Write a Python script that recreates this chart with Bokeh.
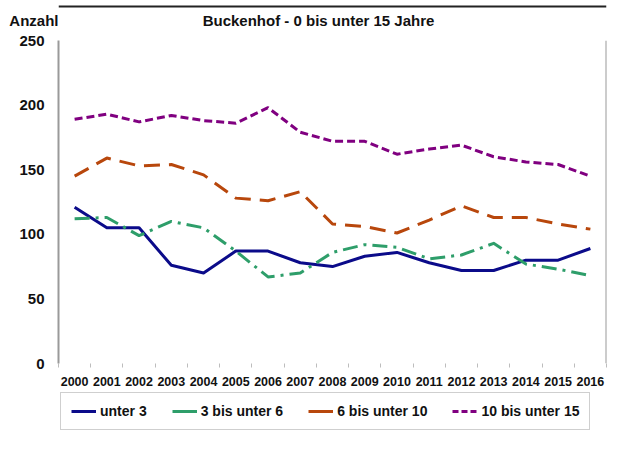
from bokeh.plotting import figure
from bokeh.layouts import column
from bokeh.models import Range1d, FixedTicker, Label, Legend, LegendItem, Span
from bokeh.embed import file_html
from bokeh.resources import INLINE

years = ["2000", "2001", "2002", "2003", "2004", "2005", "2006", "2007", "2008",
         "2009", "2010", "2011", "2012", "2013", "2014", "2015", "2016"]
unter_3 = [121, 105, 105, 76, 70, 87, 87, 78, 75, 83, 86, 78, 72, 72, 80, 80, 89]
bis_6 = [112, 113, 99, 110, 105, 87, 67, 70, 86, 92, 90, 81, 84, 93, 77, 73, 68]
bis_10 = [145, 159, 153, 154, 146, 128, 126, 133, 108, 106, 101, 111, 122, 113, 113, 108, 104]
bis_15 = [189, 193, 187, 192, 188, 186, 198, 179, 172, 172, 162, 166, 169, 160, 156, 154, 145]
y_ticks = [0, 50, 100, 150, 200, 250]
series_names = ["unter 3", "3 bis unter 6", "6 bis unter 10", "10 bis unter 15"]
title_text = "Buckenhof - 0 bis unter 15 Jahre"
y_title = "Anzahl"

FONT = "Liberation Sans"
TXT = "#111111"
colors = ["#0b0b8a", "#2e9e6a", "#b8470c", "#800080"]
dashes = ["solid", "15 6 3 6", "16 9", "8 4"]
legend_dashes = ["solid", "solid", "solid", "6 3"]
W = 607
FRAME_W = 548  # frames of the stacked figures are aligned (58 .. 606)
x = list(range(len(years)))
series = [unter_3, bis_6, bis_10, bis_15]


def blank(height, yr, with_y_axis=False):
    f = figure(width=W, height=height, output_backend="svg", toolbar_location=None,
               x_range=Range1d(0, FRAME_W), y_range=Range1d(0, yr),
               x_axis_location=None, y_axis_location="left" if with_y_axis else None,
               min_border=0)
    f.outline_line_color = None
    f.grid.visible = False
    f.background_fill_color = "white"
    f.border_fill_color = "white"
    return f


# ---- header: title and y-axis caption ----
head = blank(30, 30, with_y_axis=True)
head.yaxis.ticker = FixedTicker(ticks=[10])
head.yaxis.major_label_overrides = {10: y_title}
head.yaxis.axis_line_color = None
head.yaxis.major_tick_line_color = None
head.yaxis.minor_tick_line_color = None
head.yaxis.major_tick_out = 0
head.yaxis.major_tick_in = 0
head.yaxis.major_label_standoff = 0
head.yaxis.major_label_text_font = FONT
head.yaxis.major_label_text_font_style = "bold"
head.yaxis.major_label_text_font_size = "15px"
head.yaxis.major_label_text_color = TXT
head.add_layout(Span(location=24, dimension="width", line_color="#222222", line_width=2))
head.add_layout(Label(x=318 - 58, y=10, text=title_text, text_align="center", text_baseline="middle",
                      text_font=FONT, text_font_style="bold", text_font_size="15px", text_color=TXT))

# ---- main chart ----
p = figure(width=W, height=362, output_backend="svg", toolbar_location=None,
           x_range=Range1d(-0.5, len(years) - 0.5), y_range=Range1d(0, 250),
           min_border_left=58, min_border_right=1, min_border_top=10, min_border_bottom=29)
p.outline_line_color = None
p.grid.visible = False
p.background_fill_color = "white"
p.border_fill_color = "white"

p.yaxis.ticker = FixedTicker(ticks=y_ticks)
p.yaxis.major_tick_line_color = None
p.yaxis.minor_tick_line_color = None
p.yaxis.major_tick_out = 0
p.yaxis.major_tick_in = 0
p.yaxis.major_label_standoff = 14
p.yaxis.axis_line_color = "#9a9a9a"
p.yaxis.axis_line_width = 2
p.yaxis.major_label_text_font = FONT
p.yaxis.major_label_text_font_style = "bold"
p.yaxis.major_label_text_font_size = "15px"
p.yaxis.major_label_text_color = TXT

p.xaxis.ticker = FixedTicker(ticks=x, minor_ticks=[i - 0.5 for i in range(len(years) + 1)])
p.xaxis.major_label_overrides = {i: y for i, y in zip(x, years)}
p.xaxis.major_tick_line_color = None
p.xaxis.major_tick_out = 0
p.xaxis.major_tick_in = 0
p.xaxis.minor_tick_line_color = "#bdbdbd"
p.xaxis.minor_tick_out = 4
p.xaxis.minor_tick_in = 0
p.xaxis.axis_line_color = None
p.xaxis.major_label_standoff = 9
p.xaxis.major_label_text_font = FONT
p.xaxis.major_label_text_font_style = "bold"
p.xaxis.major_label_text_font_size = "12.5px"
p.xaxis.major_label_text_color = TXT

p.add_layout(Span(location=len(years) - 0.5, dimension="height", line_color="#9a9a9a", line_width=2))

for vals, c, d in zip(series, colors, dashes):
    p.line(x, vals, line_color=c, line_width=3, line_dash=d, line_join="round")

# ---- footer: legend (its renderers hold the same data, outside the footer's view) ----
foot = blank(40, 40)
leg_renderers = [foot.line(x, vals, line_color=c, line_width=3, line_dash=d)
                 for vals, c, d in zip(series, colors, legend_dashes)]
legend = Legend(items=[LegendItem(label=n, renderers=[r]) for n, r in zip(series_names, leg_renderers)],
                orientation="horizontal", location=(2, 2),
                label_text_font=FONT, label_text_font_style="bold", label_text_font_size="14px",
                label_text_color=TXT,
                glyph_width=25, glyph_height=14, label_height=14, label_standoff=4,
                spacing=25, padding=10, margin=0,
                border_line_color="#a0a0a0", border_line_width=1,
                background_fill_color="white", background_fill_alpha=1.0)
foot.add_layout(legend)

layout = column(head, p, foot, spacing=0)
open("out.html", "w").write(file_html(layout, INLINE))
